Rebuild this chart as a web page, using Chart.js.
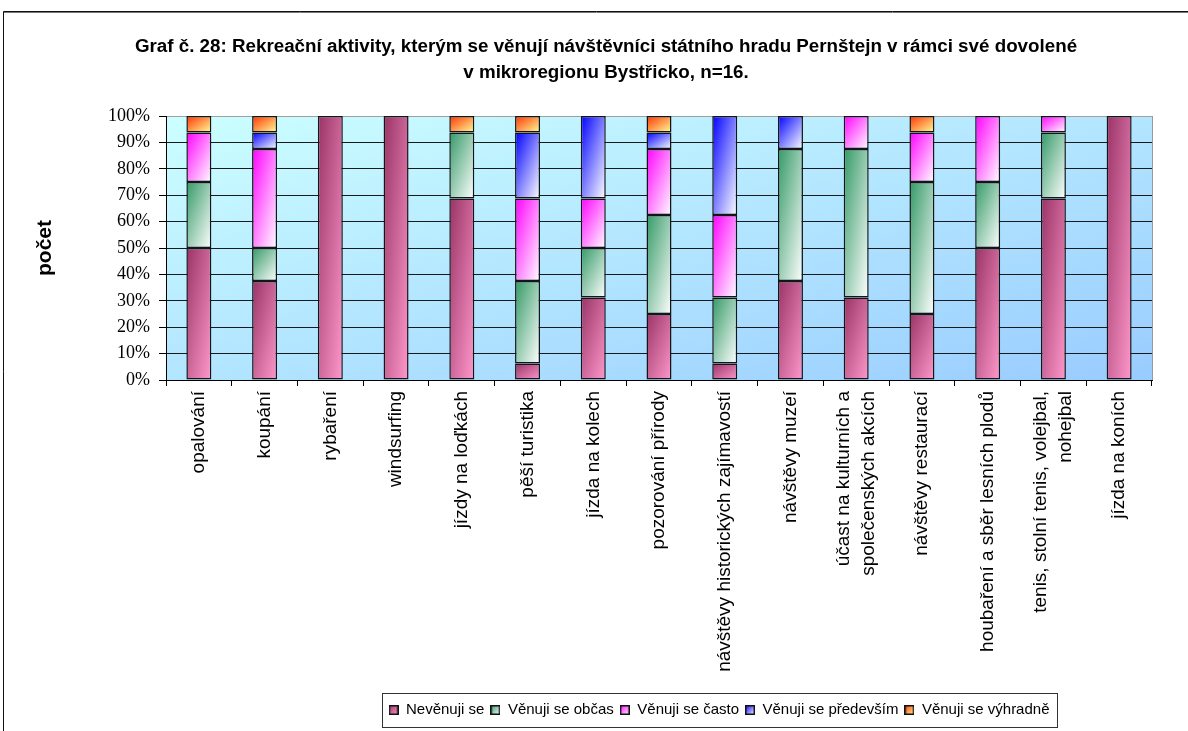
<!DOCTYPE html>
<html>
<head>
<meta charset="utf-8">
<script src="https://cdn.jsdelivr.net/npm/chart.js@4/dist/chart.umd.min.js"></script>
<style>
  html, body { margin: 0; padding: 0; background: #fff; }
  canvas { display: block; }
</style>
</head>
<body>
<canvas id="chart" width="1188" height="731"></canvas>
<script>
// Respondents in the survey (each category sums to this)
const respondents = 16;

const titleLines = [
  'Graf č. 28: Rekreační aktivity, kterým se věnují návštěvníci státního hradu Pernštejn v rámci své dovolené',
  'v mikroregionu Bystřicko, n=16.'
];

const categories = [
  'opalování',
  'koupání',
  'rybaření',
  'windsurfing',
  'jízdy na loďkách',
  'pěší turistika',
  'jízda na kolech',
  'pozorování přírody',
  'návštěvy historických zajímavostí',
  'návštěvy muzeí',
  ['účast na kulturních a', 'společenských akcích'],
  'návštěvy restaurací',
  'houbaření a sběr lesních plodů',
  ['tenis, stolní tenis, volejbal,', 'nohejbal'],
  'jízda na koních'
];

const seriesNames = ['Nevěnuji se', 'Věnuji se občas', 'Věnuji se často', 'Věnuji se především', 'Věnuji se výhradně'];

// Number of respondents per answer
const nevenujiSe      = [8, 6, 16, 16, 11, 1, 5, 4, 1, 6, 5, 4, 8, 11, 16];
const venujiObcas     = [4, 2, 0, 0, 4, 5, 3, 6, 4, 8, 9, 8, 4, 4, 0];
const venujiCasto     = [3, 6, 0, 0, 0, 5, 3, 4, 5, 0, 2, 3, 4, 1, 0];
const venujiPredevsim = [0, 1, 0, 0, 0, 4, 5, 1, 6, 2, 0, 0, 0, 0, 0];
const venujiVyhradne  = [1, 1, 0, 0, 1, 1, 0, 1, 0, 0, 0, 1, 0, 0, 0];

const yTickValues = [0, 10, 20, 30, 40, 50, 60, 70, 80, 90, 100];

const series = [nevenujiSe, venujiObcas, venujiCasto, venujiPredevsim, venujiVyhradne];

// Two-colour fills: dark corner (top-left) to light corner (bottom-right)
const fills = [
  ['#993366', '#ff99cc'],
  ['#339966', '#ffffff'],
  ['#ff00ff', '#ffffff'],
  ['#0000ff', '#ffffff'],
  ['#ff3300', '#ffff99']
];

const CAT_PCT = 1.0;
const BAR_PCT = 0.38;
const LEGEND_SHIFT = 113;
const X_FONT = { family: 'Liberation Sans', size: 19, lineHeight: 1.35 };

// Diagonal gradient whose iso-lines run parallel to the rectangle's anti-diagonal
function diagGradient(c2d, l, t, w, h, c0, c1) {
  const k = 2 * w * h / (w * w + h * h);
  const g = c2d.createLinearGradient(l, t, l + h * k, t + w * k);
  g.addColorStop(0, c0);
  g.addColorStop(1, c1);
  return g;
}

function toPercent(count) {
  return count ? count / respondents * 100 : null;
}

function segmentFill(d) {
  return (ctx) => {
    const chart = ctx.chart;
    const xs = chart.scales.x, ys = chart.scales.y;
    if (ctx.type !== 'data' || !chart.chartArea || !xs || !ys) return fills[d][0];
    const i = ctx.dataIndex;
    let below = 0;
    for (let k = 0; k < d; k++) below += series[k][i];
    const v = series[d][i];
    const yTop = ys.getPixelForValue((below + v) / respondents * 100);
    const yBot = ys.getPixelForValue(below / respondents * 100);
    const barW = xs.width / categories.length * CAT_PCT * BAR_PCT;
    const xc = xs.getPixelForValue(i);
    const h = yBot - yTop;
    if (!isFinite(h) || h <= 0 || !isFinite(xc)) return fills[d][0];
    return diagGradient(chart.ctx, xc - barW / 2, yTop, barW, h, fills[d][0], fills[d][1]);
  };
}

// Small gradient squares for the legend
const swatches = fills.map(([c0, c1]) => {
  const cv = document.createElement('canvas');
  cv.width = 10; cv.height = 10;
  const g = cv.getContext('2d');
  g.fillStyle = diagGradient(g, 0, 0, 10, 10, c0, c1);
  g.fillRect(0, 0, 10, 10);
  g.strokeStyle = '#111';
  g.lineWidth = 1.5;
  g.strokeRect(0.75, 0.75, 8.5, 8.5);
  return cv;
});

const datasets = series.map((values, d) => ({
  label: seriesNames[d],
  data: values.map(toPercent),
  backgroundColor: segmentFill(d),
  borderColor: '#151515',
  borderWidth: 1.5,
  borderSkipped: false,
  barPercentage: BAR_PCT,
  categoryPercentage: CAT_PCT
}));

const plotBackground = {
  id: 'plotBackground',
  beforeDraw(chart) {
    const { ctx, chartArea: a } = chart;
    ctx.save();
    ctx.fillStyle = '#ffffff';
    ctx.fillRect(0, 0, chart.width, chart.height);
    ctx.fillStyle = diagGradient(ctx, a.left, a.top, a.right - a.left, a.bottom - a.top, '#ccffff', '#99ccff');
    ctx.fillRect(a.left, a.top, a.right - a.left, a.bottom - a.top);
    ctx.restore();

    // centre two-line category labels on their tick
    const xs = chart.scales.x;
    if (xs && typeof xs.getLabelItems === 'function') {
      const lh = X_FONT.size * X_FONT.lineHeight;
      xs.getLabelItems().forEach(item => {
        if (Array.isArray(item.label) && item.label.length > 1 && !item._centred) {
          item.options.translation[0] -= lh * (item.label.length - 1) / 2;
          item._centred = true;
        }
      });
    }
  },
  afterDraw(chart) {
    const { ctx, chartArea: a } = chart;
    ctx.save();
    // right edge of plot area
    ctx.strokeStyle = '#9a9a9a';
    ctx.lineWidth = 1;
    ctx.beginPath();
    ctx.moveTo(Math.round(a.right) + 0.5, a.top);
    ctx.lineTo(Math.round(a.right) + 0.5, a.bottom);
    ctx.stroke();

    // legend frame
    const boxes = chart.legend.legendHitBoxes;
    if (boxes && boxes.length) {
      const l = Math.min(...boxes.map(b => b.left)) - 7;
      const r = Math.max(...boxes.map(b => b.left + b.width)) + 7;
      const cy = boxes[0].top + boxes[0].height / 2;
      ctx.strokeStyle = '#333';
      ctx.lineWidth = 1;
      ctx.strokeRect(Math.round(l) + 0.5, Math.round(cy - 17) + 0.5, Math.round(r - l), 34);
    }

    // outer chart frame
    ctx.strokeStyle = '#111';
    ctx.lineWidth = 1;
    ctx.beginPath();
    ctx.moveTo(3.5, 740);
    ctx.lineTo(3.5, 11.5);
    ctx.lineTo(1200, 11.5);
    ctx.stroke();
    ctx.strokeStyle = '#777';
    ctx.beginPath();
    ctx.moveTo(4, 12.5);
    ctx.lineTo(1200, 12.5);
    ctx.stroke();
    ctx.restore();
  }
};

const legendOffset = {
  id: 'legendOffset',
  afterUpdate(chart) {
    const lg = chart.legend;
    if (!lg) return;
    lg.left += LEGEND_SHIFT;
    lg.right += LEGEND_SHIFT;
    (lg.legendHitBoxes || []).forEach(b => { b.left += LEGEND_SHIFT; });
  }
};

new Chart(document.getElementById('chart'), {
  type: 'bar',
  data: { labels: categories, datasets },
  options: {
    responsive: false,
    animation: false,
    devicePixelRatio: 1,
    layout: { padding: { top: 0, left: 60, right: 36, bottom: 3.5 } },
    plugins: {
      title: {
        display: true,
        text: titleLines,
        color: '#000',
        font: { family: 'Liberation Sans', size: 18.8, weight: 'bold', lineHeight: 26 / 18.8 },
        padding: { top: 34, bottom: 30 }
      },
      legend: {
        position: 'bottom',
        labels: {
          color: '#000',
          font: { family: 'Liberation Sans', size: 15 },
          usePointStyle: true,
          boxWidth: 10,
          boxHeight: 10,
          padding: 6,
          generateLabels(chart) {
            return chart.data.datasets.map((ds, i) => ({
              text: ds.label,
              pointStyle: swatches[i],
              fillStyle: fills[i][0],
              strokeStyle: '#111',
              lineWidth: 0,
              hidden: false,
              datasetIndex: i,
              fontColor: '#000'
            }));
          }
        }
      },
      tooltip: { enabled: false }
    },
    scales: {
      x: {
        stacked: true,
        afterFit(s) { s.height = 316.5; },
        ticks: {
          autoSkip: false,
          maxRotation: 90,
          minRotation: 90,
          color: '#000',
          padding: 5,
          font: X_FONT
        },
        grid: { display: true, drawOnChartArea: false, offset: true, tickLength: 6, color: '#000' },
        border: { color: '#000', width: 1 }
      },
      y: {
        stacked: true,
        min: 0,
        max: 100,
        afterFit(s) { s.width = 106; },
        afterBuildTicks(s) { s.ticks = yTickValues.map(v => ({ value: v })); },
        ticks: {
          color: '#000',
          padding: 9,
          font: { family: 'Liberation Serif', size: 18 },
          callback: (v) => v + '%'
        },
        grid: {
          color: (c) => (c.tick && c.tick.value === 100 ? '#a0a0a0' : '#1a1a1a'),
          tickColor: '#000',
          tickLength: 7,
          lineWidth: 1
        },
        border: { color: '#000', width: 1 },
        title: {
          display: true,
          text: 'počet',
          color: '#000',
          font: { family: 'Liberation Sans', size: 21, weight: 'bold' },
          padding: { top: -27.6, bottom: 0 }
        }
      }
    }
  },
  plugins: [plotBackground, legendOffset]
});
</script>
</body>
</html>
